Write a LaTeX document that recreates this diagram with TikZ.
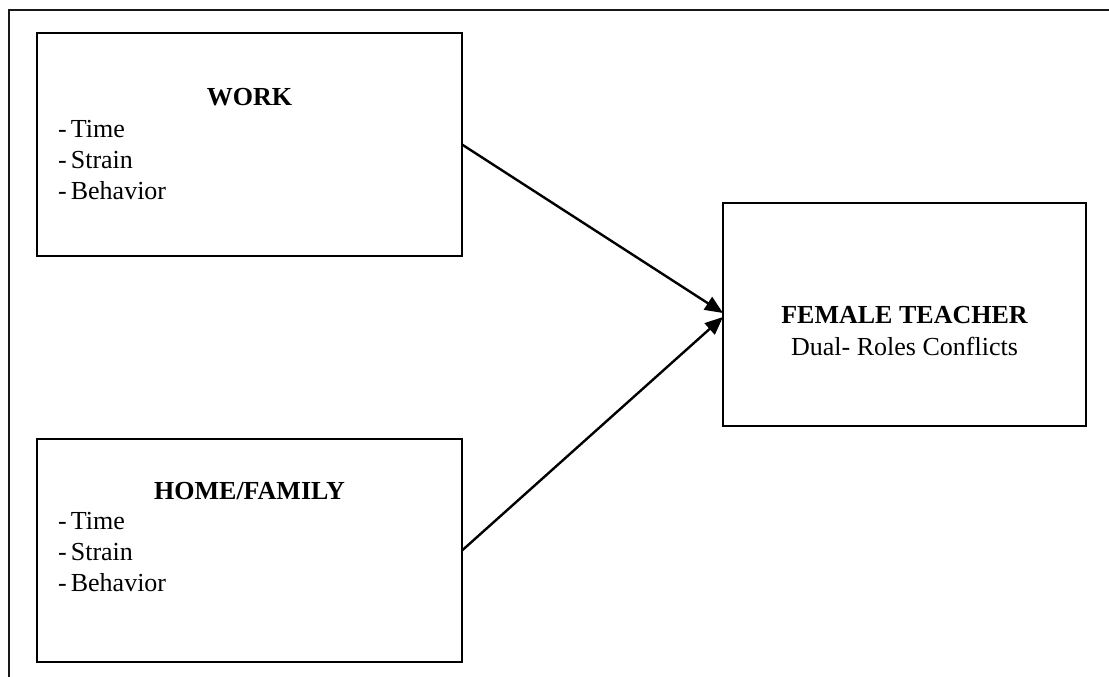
\documentclass[tikz,border=0pt]{standalone}
\usepackage{fontspec}
\setmainfont{Liberation Serif}
\usetikzlibrary{arrows.meta}
\begin{document}
\begin{tikzpicture}[x=1pt,y=-1pt,
  box/.style={draw=black, line width=2.6pt, rectangle, inner sep=0pt, outer sep=0pt, minimum height=223pt},
  txt/.style={inner sep=0pt, anchor=base west, font=\fontsize{26}{31}\selectfont},
  ttl/.style={inner sep=0pt, anchor=base, font=\fontsize{26}{31}\selectfont\bfseries},
  arr/.style={line width=2.4pt, -{Triangle[length=18pt,width=15pt]}}]
\useasboundingbox (0,0) rectangle (1109,677);
\fill[white] (0,0) rectangle (1109,677);
% outer frame (open to right and bottom)
\draw[line width=2pt, black!90] (9,677) -- (9,10) -- (1109,10);
% boxes
\node[box, minimum width=425pt] (work) at (249.5,144.5) {};
\node[box, minimum width=425pt] (home) at (249.5,550.5) {};
\node[box, minimum width=363pt] (fem) at (904.5,314.5) {};
% WORK text
\node[ttl] (workt) at (249.5,106) {WORK};
\node[txt] (w1) at (58,137) {-\hspace{4pt}Time};
\node[txt] (w2) at (58,168) {-\hspace{4pt}Strain};
\node[txt] (w3) at (58,199) {-\hspace{4pt}Behavior};
% HOME text
\node[ttl] (homet) at (249.5,499) {HOME/FAMILY};
\node[txt] (h1) at (58,529) {-\hspace{4pt}Time};
\node[txt] (h2) at (58,560) {-\hspace{4pt}Strain};
\node[txt] (h3) at (58,591) {-\hspace{4pt}Behavior};
% FEMALE text
\node[ttl] (femt) at (904.5,323) {FEMALE TEACHER};
\node[txt, anchor=base] (fems) at (904.5,355) {Dual- Roles Conflicts};
% arrows
\draw[arr] (work.east) -- ([yshift=1.5pt]fem.west);
\draw[arr] (home.east) -- ([yshift=-2.5pt]fem.west);
\end{tikzpicture}
\end{document}
